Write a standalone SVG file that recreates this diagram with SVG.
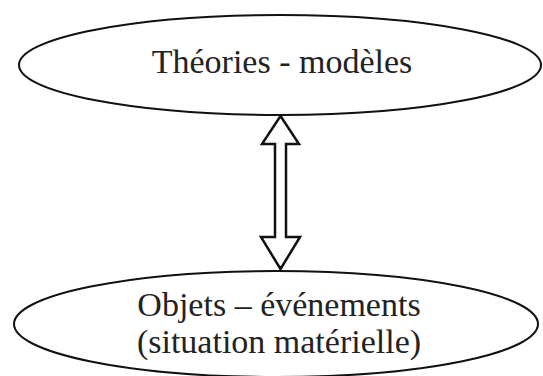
<svg xmlns="http://www.w3.org/2000/svg" width="543" height="376" viewBox="0 0 543 376">
  <style>
    .node { fill: #ffffff; stroke: #111111; stroke-width: 2; }
    .label { font-family: "Liberation Serif", "Times New Roman", serif; font-size: 34px; fill: #222222; text-anchor: middle; }
    .arrow { fill: #ffffff; stroke: #111111; stroke-width: 2.5; stroke-linejoin: miter; }
  </style>
  <rect width="543" height="376" fill="#ffffff"/>
  <g id="connectors">
    <polygon class="arrow" points="280.5,116 299,144 286,144 286,237 300,237 280.5,269 261,237 275,237 275,144 262,144"/>
  </g>
  <g id="node-theories">
    <ellipse class="node" cx="280" cy="65" rx="261" ry="50"/>
    <text class="label" x="282" y="73">Théories - modèles</text>
  </g>
  <g id="node-objets">
    <ellipse class="node" cx="276" cy="324" rx="262" ry="53"/>
    <text class="label" x="279" y="316">Objets – événements</text>
    <text class="label" x="279" y="353">(situation matérielle)</text>
  </g>
</svg>
